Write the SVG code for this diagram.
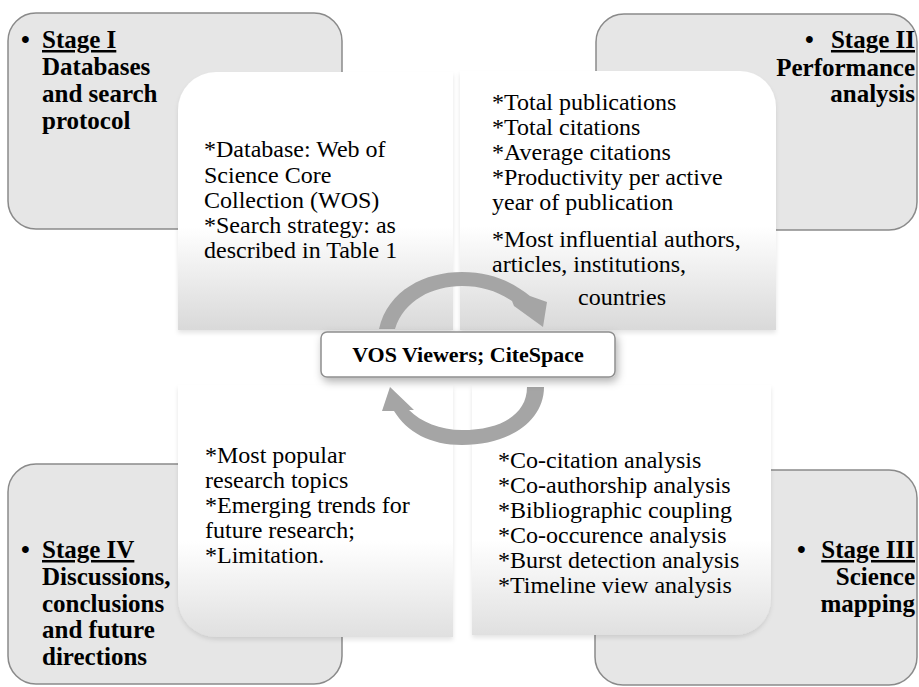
<svg xmlns="http://www.w3.org/2000/svg" width="919" height="687" viewBox="0 0 919 687">
<style>
.stage{fill:#e6e6e6;stroke:#8a8a8a;stroke-width:1.5}
.quad{stroke:none}
.bold{font-family:"Liberation Serif","Times New Roman",serif;font-weight:bold;font-size:25px;fill:#000}
.reg{font-family:"Liberation Serif","Times New Roman",serif;font-size:24px;fill:#000}
.ctr{font-family:"Liberation Serif","Times New Roman",serif;font-weight:bold;font-size:22px;fill:#000}
.arrow{fill:#a5a5a5;stroke:none}
</style>
<defs>
<linearGradient id="gTop" x1="0" y1="0" x2="0" y2="1">
<stop offset="0" stop-color="#ffffff"/>
<stop offset="0.6" stop-color="#ffffff"/>
<stop offset="1" stop-color="#d9d9d9"/>
</linearGradient>
<linearGradient id="gBot" x1="0" y1="0" x2="0" y2="1">
<stop offset="0" stop-color="#ffffff"/>
<stop offset="0.62" stop-color="#ffffff"/>
<stop offset="1" stop-color="#e0e0e0"/>
</linearGradient>
<filter id="sh" x="-10%" y="-10%" width="120%" height="125%">
<feDropShadow dx="0" dy="3" stdDeviation="2" flood-color="#000" flood-opacity="0.1"/>
</filter>
<filter id="shc" x="-10%" y="-30%" width="120%" height="170%">
<feDropShadow dx="2" dy="4" stdDeviation="4" flood-color="#000" flood-opacity="0.3"/>
</filter>
</defs>

<g id="stage1">
<rect class="stage" x="8" y="13" width="334" height="216" rx="28"/>
<text class="bold" x="21" y="48">•</text>
<text class="bold" x="42" y="48"><tspan text-decoration="underline">Stage I</tspan></text>
<text class="bold" x="42" y="75">Databases</text>
<text class="bold" x="42" y="102">and search</text>
<text class="bold" x="42" y="129">protocol</text>
</g>

<g id="stage2">
<rect class="stage" x="596" y="14" width="321" height="216" rx="28"/>
<text class="bold" x="805" y="48">•</text>
<text class="bold" x="915" y="48" text-anchor="end"><tspan text-decoration="underline">Stage II</tspan></text>
<text class="bold" x="915" y="76" text-anchor="end">Performance</text>
<text class="bold" x="915" y="102" text-anchor="end">analysis</text>
</g>

<g id="stage4">
<rect class="stage" x="8" y="464" width="334" height="220" rx="28"/>
<text class="bold" x="21" y="558">•</text>
<text class="bold" x="42" y="558"><tspan text-decoration="underline">Stage IV</tspan></text>
<text class="bold" x="42" y="585">Discussions,</text>
<text class="bold" x="42" y="612">conclusions</text>
<text class="bold" x="42" y="638">and future</text>
<text class="bold" x="42" y="665">directions</text>
</g>

<g id="stage3">
<rect class="stage" x="595" y="470" width="322" height="215" rx="28"/>
<text class="bold" x="797" y="558">•</text>
<text class="bold" x="915" y="558" text-anchor="end"><tspan text-decoration="underline">Stage III</tspan></text>
<text class="bold" x="915" y="585" text-anchor="end">Science</text>
<text class="bold" x="915" y="612" text-anchor="end">mapping</text>
</g>

<g id="quad1">
<path class="quad" fill="url(#gTop)" filter="url(#sh)" d="M178,330 V110 A38,38 0 0 1 216,72 H453 V330 Z"/>
<text class="reg" x="204" y="157">*Database: Web of</text>
<text class="reg" x="204" y="183">Science Core</text>
<text class="reg" x="204" y="208">Collection (WOS)</text>
<text class="reg" x="204" y="233">*Search strategy: as</text>
<text class="reg" x="204" y="258">described in Table 1</text>
</g>

<g id="quad2">
<path class="quad" fill="url(#gTop)" filter="url(#sh)" d="M460,330 V71 H740 A36,36 0 0 1 776,107 V330 Z"/>
<text class="reg" x="492" y="110">*Total publications</text>
<text class="reg" x="492" y="135">*Total citations</text>
<text class="reg" x="492" y="160">*Average citations</text>
<text class="reg" x="492" y="185">*Productivity per active</text>
<text class="reg" x="492" y="210">year of publication</text>
<text class="reg" x="492" y="247">*Most influential authors,</text>
<text class="reg" x="492" y="272">articles, institutions,</text>
<text class="reg" x="578" y="305">countries</text>
</g>

<g id="quad4">
<path class="quad" fill="url(#gBot)" filter="url(#sh)" d="M178,385 H453 V637 H216 A38,38 0 0 1 178,599 Z"/>
<text class="reg" x="205" y="463">*Most popular</text>
<text class="reg" x="205" y="488">research topics</text>
<text class="reg" x="205" y="513">*Emerging trends for</text>
<text class="reg" x="205" y="538">future research;</text>
<text class="reg" x="205" y="563">*Limitation.</text>
</g>

<g id="quad3">
<path class="quad" fill="url(#gBot)" filter="url(#sh)" d="M472,385 H771 V599 A36,36 0 0 1 735,635 H472 Z"/>
<text class="reg" x="498" y="468">*Co-citation analysis</text>
<text class="reg" x="498" y="493">*Co-authorship analysis</text>
<text class="reg" x="498" y="518">*Bibliographic coupling</text>
<text class="reg" x="498" y="543">*Co-occurence analysis</text>
<text class="reg" x="498" y="568">*Burst detection analysis</text>
<text class="reg" x="498" y="593">*Timeline view analysis</text>
</g>

<g id="connectors">
<path class="arrow" d="M379,329 C388,290 425,272 462,272 C492,272 512,282 530,296 L547,302 L543,327 L514,306 L512,301 C497,291 481,286 462,286 C433,286 404,300 395,329 Z"/>
<path class="arrow" d="M527,387 L544,387 C544,422 508,445 462,445 C430,445 407,432 394,411 L382,411 L390,387 L414,410 L409,410 C421,422 440,430 462,430 C500,430 527,415 527,387 Z"/>
</g>

<g id="center">
<rect x="321" y="332" width="294" height="45" rx="6" fill="#ffffff" stroke="#8f8f8f" stroke-width="1.5" filter="url(#shc)"/>
<text class="ctr" x="468" y="362" text-anchor="middle">VOS Viewers; CiteSpace</text>
</g>
</svg>
